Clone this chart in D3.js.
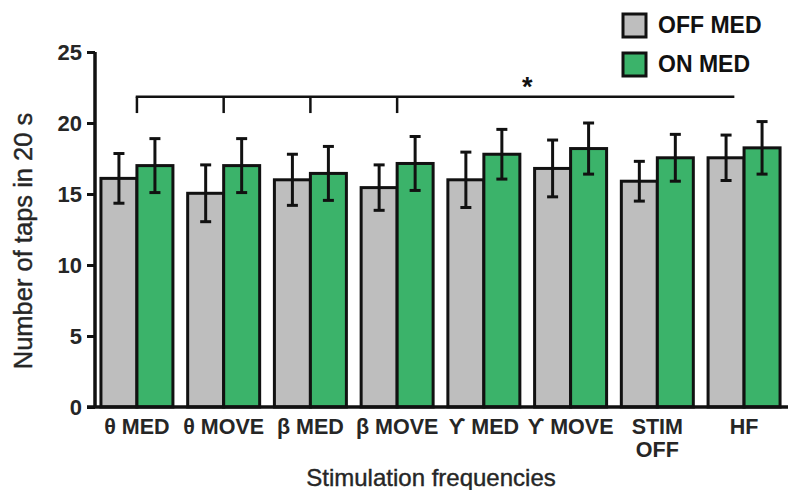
<!DOCTYPE html>
<html>
<head>
<meta charset="utf-8">
<script src="https://cdn.jsdelivr.net/npm/d3@7"></script>
<style>
  html, body { margin: 0; padding: 0; background: #fff; }
  svg { display: block; font-family: "Liberation Sans", Arial, sans-serif; }
</style>
</head>
<body>
<svg id="chart" width="788" height="490"></svg>
<script>
// ---- data ----
const categories = ["θ MED", "θ MOVE", "β MED", "β MOVE", "γ MED", "γ MOVE", "STIM OFF", "HF"];
const categoryLines = [["θ MED"], ["θ MOVE"], ["β MED"], ["β MOVE"], ["ϒ MED"], ["ϒ MOVE"], ["STIM", "OFF"], ["HF"]];
const seriesNames = ["OFF MED", "ON MED"];
const offMed = [16.1, 15.05, 16.0, 15.45, 16.0, 16.8, 15.9, 17.55];
const offMedErr = [1.75, 2.0, 1.8, 1.6, 1.95, 2.0, 1.4, 1.6];
const onMed = [17.0, 17.0, 16.45, 17.15, 17.8, 18.2, 17.55, 18.25];
const onMedErr = [1.9, 1.9, 1.9, 1.9, 1.75, 1.8, 1.65, 1.85];
const yTicks = [0, 5, 10, 15, 20, 25];
const bracketLevel = 21.85;
const bracketDrop = 20.7;
const bracketGroups = ["θ MED", "θ MOVE", "β MED", "β MOVE"];
const colors = ["#bebebe", "#3bb36a"];

// ---- layout ----
const svg = d3.select("#chart");
const y = d3.scaleLinear().domain([0, 25]).range([407, 52]);
const x = d3.scaleBand().domain(categories).range([94, 787]).paddingInner(0.17).paddingOuter(0.08);
const xs = d3.scaleBand().domain(seriesNames).range([0, x.bandwidth()]);

const rows = categories.map((c, i) => [
  { cat: c, s: seriesNames[0], v: offMed[i], e: offMedErr[i], col: colors[0] },
  { cat: c, s: seriesNames[1], v: onMed[i], e: onMedErr[i], col: colors[1] }
]).flat();

// bars
svg.append("g").selectAll("rect").data(rows).join("rect")
  .attr("x", d => x(d.cat) + xs(d.s))
  .attr("y", d => y(d.v))
  .attr("width", xs.bandwidth())
  .attr("height", d => y(0) - y(d.v))
  .attr("fill", d => d.col)
  .attr("stroke", "#111")
  .attr("stroke-width", 3);

// error bars
const eg = svg.append("g").attr("stroke", "#111").attr("stroke-width", 3).attr("fill", "none");
rows.forEach(d => {
  const cx = x(d.cat) + xs(d.s) + xs.bandwidth() / 2;
  eg.append("line").attr("x1", cx).attr("x2", cx).attr("y1", y(d.v + d.e)).attr("y2", y(d.v - d.e));
  eg.append("line").attr("x1", cx - 5.5).attr("x2", cx + 5.5).attr("y1", y(d.v + d.e)).attr("y2", y(d.v + d.e));
  eg.append("line").attr("x1", cx - 5.5).attr("x2", cx + 5.5).attr("y1", y(d.v - d.e)).attr("y2", y(d.v - d.e));
});

// y axis
const yAxis = d3.axisLeft(y).tickValues(yTicks).tickSize(8).tickPadding(5);
const gy = svg.append("g").attr("transform", "translate(95,0)").call(yAxis);
gy.select(".domain").attr("stroke", "#111").attr("stroke-width", 3.5).attr("d", `M0,${y(25)}V${y(0)}`);
gy.selectAll(".tick line").attr("stroke", "#111").attr("stroke-width", 3);
gy.selectAll(".tick text").attr("font-size", 22).attr("font-weight", "bold").attr("fill", "#262626")
  .attr("font-family", "Liberation Sans, Arial, sans-serif");

// x axis line
svg.append("line").attr("x1", 87).attr("x2", 788).attr("y1", y(0)).attr("y2", y(0))
  .attr("stroke", "#111").attr("stroke-width", 3.5);

// x labels
const xl = svg.append("g").attr("font-size", 21.5).attr("font-weight", "bold").attr("fill", "#262626").attr("text-anchor", "middle");
categories.forEach((c, i) => {
  const cx = x(c) + x.bandwidth() / 2;
  const t = xl.append("text").attr("x", cx).attr("y", 434);
  categoryLines[i].forEach((ln, j) => {
    t.append("tspan").attr("x", cx).attr("dy", j === 0 ? 0 : 23).text(ln);
  });
});

// axis titles
svg.append("text").attr("x", 431).attr("y", 486).attr("text-anchor", "middle")
  .attr("font-size", 24).attr("fill", "#262626").attr("stroke", "#262626").attr("stroke-width", 0.4)
  .text("Stimulation frequencies");
svg.append("text").attr("transform", `translate(32,${241}) rotate(-90)`).attr("text-anchor", "middle")
  .attr("font-size", 25.5).attr("fill", "#262626").attr("stroke", "#262626").attr("stroke-width", 0.4)
  .text("Number of taps in 20 s");

// bracket
const bx = c => x(c) + x.bandwidth() / 2;
const bEnd = x("HF") + x.bandwidth() * 0.365;
const bg = svg.append("g").attr("stroke", "#111").attr("stroke-width", 2.5).attr("fill", "none");
bg.append("line").attr("x1", bx(bracketGroups[0]) - 1.2).attr("x2", bEnd).attr("y1", y(bracketLevel)).attr("y2", y(bracketLevel));
bracketGroups.forEach(c => {
  bg.append("line").attr("x1", bx(c)).attr("x2", bx(c)).attr("y1", y(bracketLevel)).attr("y2", y(bracketDrop));
});
svg.append("text").attr("x", (bx("γ MED") + bx("γ MOVE")) / 2).attr("y", 96).attr("text-anchor", "middle")
  .attr("font-size", 27).attr("font-weight", "bold").attr("fill", "#111").text("*");

// legend
const lg = svg.append("g");
seriesNames.forEach((s, i) => {
  const yy = 14 + i * 39;
  lg.append("rect").attr("x", 623).attr("y", yy).attr("width", 23).attr("height", 23)
    .attr("fill", colors[i]).attr("stroke", "#111").attr("stroke-width", 3);
  lg.append("text").attr("x", 658).attr("y", yy + 19).attr("font-size", 23).attr("font-weight", "bold")
    .attr("fill", "#111").text(s);
});
</script>
</body>
</html>
